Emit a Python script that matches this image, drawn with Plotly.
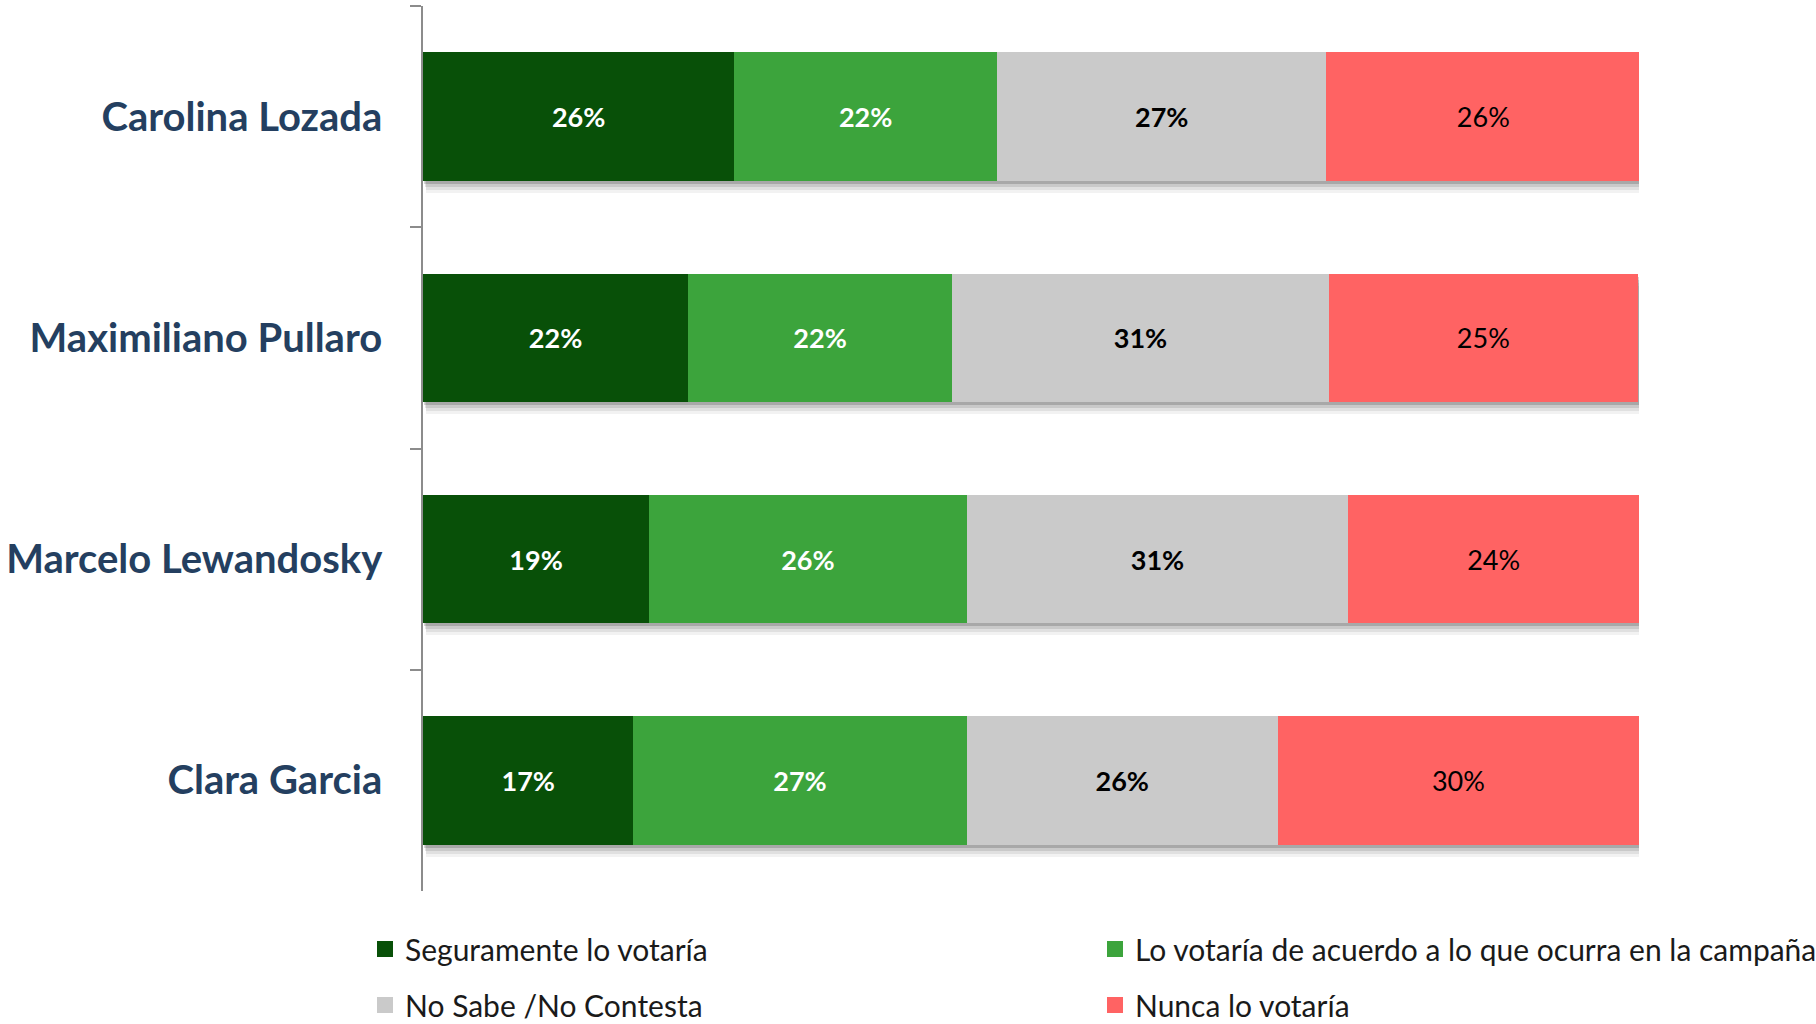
import plotly.graph_objects as go

candidates = ["Carolina Lozada", "Maximiliano Pullaro", "Marcelo Lewandosky", "Clara Garcia"]
series_names = [
    "Seguramente lo votaría",
    "Lo votaría de acuerdo a lo que ocurra en la campaña",
    "No Sabe /No Contesta",
    "Nunca lo votaría",
]
seguramente = [25.6, 21.8, 18.6, 17.3]
de_acuerdo = [21.6, 21.7, 26.1, 27.4]
no_sabe = [27.1, 31.0, 31.4, 25.6]
nunca = [25.8, 25.4, 23.9, 29.7]

values = [seguramente, de_acuerdo, no_sabe, nunca]
colors = ["#085008", "#3ca43c", "#cacaca", "#ff6363"]
text_colors = ["#ffffff", "#ffffff", "#000000", "#000000"]
text_weights = ["bold", "bold", "bold", "normal"]
legend_ids = ["legend", "legend2", "legend", "legend2"]

W, H = 1816, 1024
ML, MR, MT, MB = 423, 177, 6, 133
PH = H - MT - MB
PW = W - ML - MR

# shadow styling: (down px, right px, opacity), drawn far-to-near
shadow_layers = [(12, 3, 0.05), (9, 3, 0.07), (6, 2, 0.10), (3, 1, 0.16)]

totals = [sum(v) for v in zip(*values)]

fig = go.Figure()
layout_axes = {}

hidden_x = dict(visible=False, showgrid=False, zeroline=False)
hidden_y = dict(visible=False, showgrid=False, zeroline=False, type="category",
                categoryorder="array", categoryarray=candidates)

for i, (dy, dx, alpha) in enumerate(shadow_layers):
    n = i + 1
    xa = "x" if n == 1 else f"x{n}"
    ya = "y" if n == 1 else f"y{n}"
    fig.add_trace(go.Bar(
        y=candidates, x=totals, orientation="h",
        marker=dict(color=f"rgba(0,0,0,{alpha})", line=dict(width=0)),
        showlegend=False, hoverinfo="skip",
        xaxis=xa, yaxis=ya,
    ))
    ddx = dx * 100 / PW
    ddy = dy * 4 / PH
    xk = "xaxis" if n == 1 else f"xaxis{n}"
    yk = "yaxis" if n == 1 else f"yaxis{n}"
    layout_axes[xk] = dict(range=[-ddx, 100 - ddx], anchor=ya, **hidden_x)
    layout_axes[yk] = dict(range=[3.5 - ddy, -0.5 - ddy], anchor=xa, **hidden_y)

M = len(shadow_layers) + 1
mx, my = f"x{M}", f"y{M}"

for name, vals, col, tcol, tw in zip(series_names, values, colors, text_colors, text_weights):
    fig.add_trace(go.Bar(
        y=candidates, x=vals, orientation="h", name=name,
        marker=dict(color=col, line=dict(width=0)),
        texttemplate="%{x:.0f}%", textposition="inside", insidetextanchor="middle",
        textangle=0,
        textfont=dict(family="Lato", size=27, color=tcol, weight=tw),
        showlegend=False,
        xaxis=mx, yaxis=my,
    ))

# legend entries
for name, col, lg in zip(series_names, colors, legend_ids):
    fig.add_trace(go.Scatter(
        x=[None], y=[None], mode="markers", name=name,
        marker=dict(symbol="square", size=16, color=col),
        legend=lg, legendgroup=name, showlegend=True,
        xaxis=mx, yaxis=my,
    ))

layout_axes[f"xaxis{M}"] = dict(range=[0, 100], anchor=my, visible=False, showgrid=False, zeroline=False)
layout_axes[f"yaxis{M}"] = dict(
    anchor=mx, type="category", categoryorder="array", categoryarray=candidates,
    range=[3.5, -0.5],
    showline=True, linecolor="#8c8c8c", linewidth=1.5,
    ticks="outside", tickson="boundaries", ticklen=11, tickwidth=1.5, tickcolor="#8c8c8c",
    showgrid=False, zeroline=False,
    ticklabelstandoff=31,
    tickfont=dict(family="Lato", size=40, color="#243F60", weight="bold"),
)

legend_font = dict(family="Lato", size=30, color="#1a1a1a")
legend_top = -(923 - (H - MB)) / PH

fig.update_layout(
    width=W, height=H,
    paper_bgcolor="white", plot_bgcolor="rgba(0,0,0,0)",
    barmode="stack", bargap=0.42,
    margin=dict(l=ML, r=MR, t=MT, b=MB, autoexpand=False),
    legend=dict(
        x=(365 - ML) / PW, xanchor="left", y=legend_top, yanchor="top",
        orientation="v", tracegroupgap=14, bgcolor="rgba(0,0,0,0)",
        font=legend_font,
    ),
    legend2=dict(
        x=(1095 - ML) / PW, xanchor="left", y=legend_top, yanchor="top",
        orientation="v", tracegroupgap=14, bgcolor="rgba(0,0,0,0)",
        font=legend_font,
    ),
    uniformtext=dict(minsize=10, mode="show"),
    **layout_axes,
)

fig.write_html(
    "out.html",
    config={"displayModeBar": False},
    post_script="document.body.style.margin='0px';document.body.style.overflow='hidden';",
)
